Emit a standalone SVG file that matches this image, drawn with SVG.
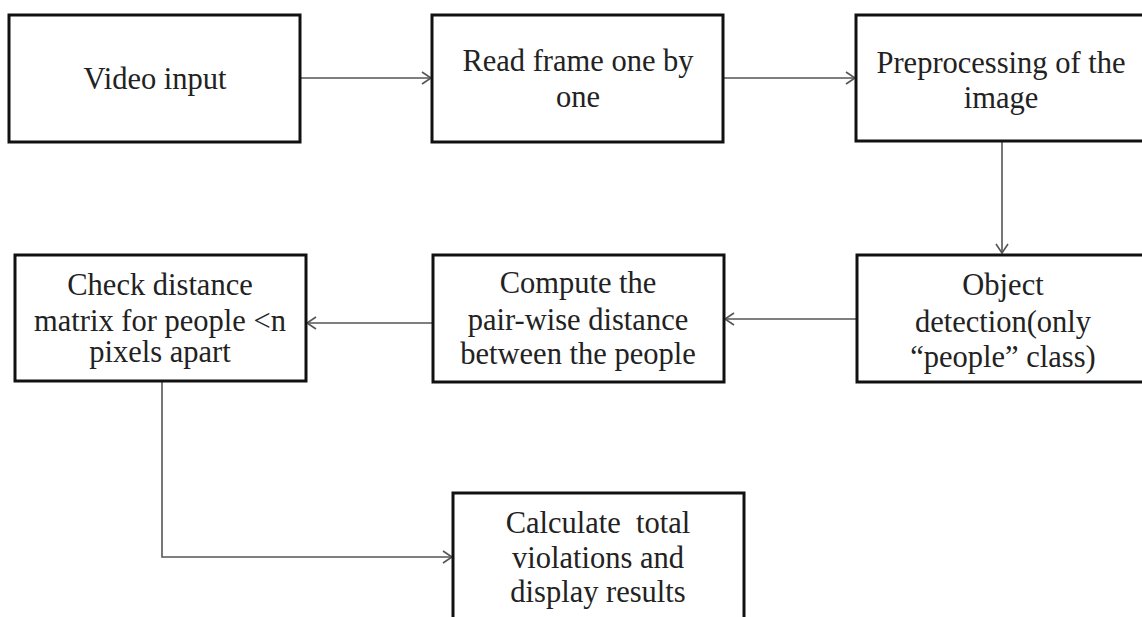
<svg xmlns="http://www.w3.org/2000/svg" width="1142" height="617" viewBox="0 0 1142 617">
  <defs>
    <style>
      .box { fill: #ffffff; stroke: #111111; stroke-width: 3; }
      .lbl { font-family: "Liberation Serif", "Times New Roman", serif; font-size: 30.5px; fill: #222222; text-anchor: middle; }
      .con { fill: none; stroke: #555555; stroke-width: 1.6; }
    </style>
    <marker id="arr" markerWidth="12" markerHeight="14" refX="10" refY="7" orient="auto" markerUnits="userSpaceOnUse">
      <path d="M1,1 L10,7 L1,13" fill="none" stroke="#555555" stroke-width="1.6"/>
    </marker>
  </defs>
  <rect width="1142" height="617" fill="#ffffff"/>

  <g id="connectors">
    <line class="con" x1="301" y1="78" x2="431" y2="78" marker-end="url(#arr)"/>
    <line class="con" x1="724" y1="78" x2="855" y2="78" marker-end="url(#arr)"/>
    <line class="con" x1="1002" y1="142" x2="1002" y2="253" marker-end="url(#arr)"/>
    <line class="con" x1="856" y1="319" x2="725" y2="319" marker-end="url(#arr)"/>
    <line class="con" x1="432" y1="323" x2="307" y2="323" marker-end="url(#arr)"/>
    <polyline class="con" points="162,381 162,557 452,557" marker-end="url(#arr)"/>
  </g>

  <g id="node-video-input">
    <rect class="box" x="9" y="15" width="291" height="127"/>
    <text class="lbl" x="155" y="89">Video input</text>
  </g>

  <g id="node-read-frame">
    <rect class="box" x="432" y="15" width="291" height="127"/>
    <text class="lbl" x="578" y="71">Read frame one by</text>
    <text class="lbl" x="578" y="107">one</text>
  </g>

  <g id="node-preprocessing">
    <rect class="box" x="856" y="15" width="295" height="126"/>
    <text class="lbl" x="1001" y="73">Preprocessing of the</text>
    <text class="lbl" x="1001" y="108">image</text>
  </g>

  <g id="node-object-detection">
    <rect class="box" x="857" y="255" width="295" height="127"/>
    <text class="lbl" x="1003" y="295">Object</text>
    <text class="lbl" x="1003" y="332">detection(only</text>
    <text class="lbl" x="1003" y="367">“people” class)</text>
  </g>

  <g id="node-compute-distance">
    <rect class="box" x="433" y="255" width="291" height="127"/>
    <text class="lbl" x="578" y="293">Compute the</text>
    <text class="lbl" x="578" y="330">pair-wise distance</text>
    <text class="lbl" x="578" y="364">between the people</text>
  </g>

  <g id="node-check-matrix">
    <rect class="box" x="15" y="255" width="291" height="126"/>
    <text class="lbl" x="160" y="295">Check distance</text>
    <text class="lbl" x="160" y="331">matrix for people &lt;n</text>
    <text class="lbl" x="160" y="362">pixels apart</text>
  </g>

  <g id="node-calculate-violations">
    <rect class="box" x="453" y="493" width="291" height="130"/>
    <text class="lbl" x="598" y="533" xml:space="preserve">Calculate  total</text>
    <text class="lbl" x="598" y="568">violations and</text>
    <text class="lbl" x="598" y="602">display results</text>
  </g>
</svg>
